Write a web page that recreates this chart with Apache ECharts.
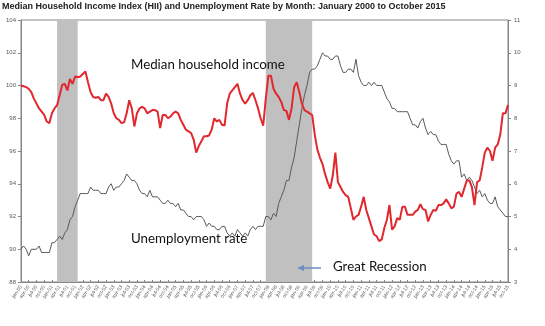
<!DOCTYPE html>
<html>
<head>
<meta charset="utf-8">
<script src="https://cdn.jsdelivr.net/npm/echarts@6/dist/echarts.min.js"></script>
<style>
html,body{margin:0;padding:0;background:#fff;}
#c{width:545px;height:326px;}
</style>
</head>
<body>
<div id="c"></div>
<script>
const monthNames = ['jan','feb','mar','apr','may','jun','jul','aug','sep','oct','nov','dec'];
const startYear = 2000;
const monthCount = 190;
const months = [];
for (let i = 0; i < monthCount; i++) {
  const y = startYear + Math.floor(i / 12);
  months.push(monthNames[i % 12] + '-' + String(y % 100).padStart(2, '0'));
}

const incomeIndex = [
  100.0, 99.95, 99.9, 99.8, 99.6, 99.2, 98.9, 98.6, 98.4, 98.2, 97.8, 97.7,
  98.3, 98.6, 98.8, 99.4, 100.05, 100.1, 99.7, 100.4, 100.1, 100.55, 100.5, 100.55,
  100.7, 100.85, 100.2, 99.6, 99.3, 99.25, 99.3, 99.1, 99.1, 99.5, 99.3, 98.9,
  98.3, 98.0, 97.9, 97.7, 97.75, 98.3, 99.1, 98.6, 97.5, 98.3, 98.6, 98.7,
  98.6, 98.3, 98.4, 98.5, 98.5, 98.4, 97.4, 98.2, 98.2, 98.0, 98.1, 98.3,
  98.4, 98.3, 97.9, 97.6, 97.3, 97.2, 97.1, 96.7, 95.9, 96.3, 96.6, 96.9,
  96.9, 96.95, 97.3, 98.0, 97.8, 97.9, 97.6, 97.55, 98.9, 99.5, 99.7, 99.9,
  100.1, 99.5, 99.1, 98.9, 99.1, 99.4, 99.55, 99.1, 98.6, 98.0, 97.55, 99.2,
  100.6, 100.6, 99.8, 99.5, 99.3, 99.0, 98.5, 98.45, 97.9, 98.6, 99.9, 100.2,
  99.6, 98.9, 98.5, 98.4, 98.3, 98.2, 97.0, 96.1, 95.6, 95.2, 94.6, 94.1,
  93.7, 94.5, 95.9, 94.1, 93.8, 93.5, 93.3, 93.2, 92.5, 91.8, 92.0, 92.1,
  92.6, 93.2, 92.4, 91.9, 91.4, 90.9, 90.8, 90.5, 90.6, 91.3, 91.8, 92.7,
  91.2, 91.4, 91.9, 91.8, 92.6, 92.6, 92.1, 92.1, 92.1, 92.3, 92.4, 92.75,
  92.45, 92.4, 91.7, 92.1, 92.4, 92.35, 92.7, 92.7, 92.8, 93.05, 92.8, 92.5,
  92.6, 93.4, 93.5, 93.2, 93.7, 94.2, 94.2, 93.8, 92.7, 94.1, 94.2, 95.0,
  95.9, 96.2, 96.0, 95.4, 96.2, 96.4, 97.0, 98.3, 98.3, 98.8
];

const unemploymentRate = [
  4.0, 4.1, 4.0, 3.8, 4.0, 4.0, 4.0, 4.1, 3.9, 3.9, 3.9, 3.9,
  4.2, 4.2, 4.3, 4.4, 4.3, 4.5, 4.6, 4.9, 5.0, 5.3, 5.5, 5.7,
  5.7, 5.7, 5.7, 5.9, 5.8, 5.8, 5.8, 5.7, 5.7, 5.7, 5.9, 6.0,
  5.8, 5.9, 5.9, 6.0, 6.1, 6.3, 6.2, 6.1, 6.1, 6.0, 5.8, 5.7,
  5.7, 5.6, 5.8, 5.6, 5.6, 5.6, 5.5, 5.4, 5.4, 5.5, 5.4, 5.4,
  5.3, 5.4, 5.2, 5.2, 5.1, 5.0, 5.0, 4.9, 5.0, 5.0, 5.0, 4.9,
  4.7, 4.8, 4.7, 4.7, 4.6, 4.6, 4.7, 4.7, 4.5, 4.4, 4.5, 4.4,
  4.6, 4.5, 4.4, 4.5, 4.4, 4.6, 4.7, 4.6, 4.7, 4.7, 4.7, 5.0,
  5.0, 4.9, 5.1, 5.0, 5.4, 5.6, 5.8, 6.1, 6.1, 6.5, 6.8, 7.3,
  7.8, 8.3, 8.7, 9.0, 9.4, 9.5, 9.5, 9.6, 9.8, 10.0, 9.9, 9.9,
  9.8, 9.8, 9.9, 9.9, 9.6, 9.4, 9.4, 9.5, 9.5, 9.4, 9.8, 9.3,
  9.1, 9.0, 9.0, 9.1, 9.0, 9.1, 9.0, 9.0, 9.0, 8.8, 8.6, 8.5,
  8.3, 8.3, 8.2, 8.2, 8.2, 8.2, 8.2, 8.0, 7.8, 7.8, 7.7, 7.9,
  8.0, 7.7, 7.5, 7.6, 7.5, 7.5, 7.3, 7.2, 7.2, 7.2, 6.9, 6.7,
  6.6, 6.7, 6.7, 6.2, 6.3, 6.1, 6.2, 6.1, 5.9, 5.7, 5.8, 5.6,
  5.7, 5.5, 5.4, 5.4, 5.6, 5.3, 5.2, 5.1, 5.0, 5.0
];

const recessions = [['mar-01', 'nov-01'], ['dec-07', 'jun-09']];

const titleText = 'Median Household Income Index (HII) and Unemployment Rate by Month: January 2000 to October 2015';
const incomeLabel = 'Median household income';
const unempLabel = 'Unemployment rate';
const recessionLabel = 'Great Recession';

const chart = echarts.init(document.getElementById('c'), null, {renderer: 'canvas'});
const axisText = {color: '#595959', fontSize: 6, fontFamily: 'Liberation Sans'};
chart.setOption({
  animation: false,
  backgroundColor: '#fff',
  title: {
    text: titleText, left: 2, top: 2, padding: 0,
    textStyle: {fontSize: 9, fontWeight: 'bold', color: '#222', fontFamily: 'Liberation Sans'}
  },
  grid: {left: 21, right: 37, top: 20, bottom: 44, show: true, borderColor: '#868686', borderWidth: 1},
  xAxis: {
    type: 'category', data: months, boundaryGap: false,
    axisLine: {lineStyle: {color: '#868686'}},
    axisTick: {interval: 2, inside: true, length: 2, lineStyle: {color: '#868686'}},
    axisLabel: {interval: 2, rotate: 55, margin: 4, fontSize: 5, color: '#595959', fontFamily: 'Liberation Sans'},
    splitLine: {show: false}
  },
  yAxis: [
    {type: 'value', min: 88, max: 104, interval: 2,
     axisLine: {show: true, lineStyle: {color: '#868686'}},
     axisTick: {show: true, length: 3, lineStyle: {color: '#868686'}},
     axisLabel: Object.assign({margin: 5}, axisText), splitLine: {show: false}},
    {type: 'value', min: 3, max: 11, interval: 1, position: 'right',
     axisLine: {show: true, lineStyle: {color: '#868686'}},
     axisTick: {show: true, length: 3, lineStyle: {color: '#868686'}},
     axisLabel: Object.assign({margin: 6}, axisText), splitLine: {show: false}}
  ],
  series: [
    {
      name: 'Unemployment rate', type: 'line', yAxisIndex: 1, data: unemploymentRate,
      showSymbol: false, lineStyle: {color: '#595959', width: 1}, z: 3,
      markArea: {silent: true, itemStyle: {color: '#c0c0c0'},
        data: recessions.map(r => [{xAxis: r[0]}, {xAxis: r[1]}])}
    },
    {
      name: 'Median household income', type: 'line', yAxisIndex: 0, data: incomeIndex,
      showSymbol: false, lineStyle: {color: '#e0282e', width: 2}, z: 4
    }
  ],
  graphic: {
    elements: [
      {type: 'text', z: 100, left: 131, top: 58, style: {text: incomeLabel, font: '13.3px Lato', fill: '#111'}},
      {type: 'text', z: 100, left: 131, top: 232, style: {text: unempLabel, font: '13.3px Lato', fill: '#111'}},
      {type: 'text', z: 100, left: 333, top: 260, style: {text: recessionLabel, font: '13.3px Lato', fill: '#111'}},
      {type: 'line', z: 100, shape: {x1: 321, y1: 268, x2: 302, y2: 268}, style: {stroke: '#6c8ebf', lineWidth: 1.5}},
      {type: 'polygon', z: 100, shape: {points: [[297, 268], [304, 265], [304, 271]]}, style: {fill: '#6c8ebf'}}
    ]
  }
});
</script>
</body>
</html>
